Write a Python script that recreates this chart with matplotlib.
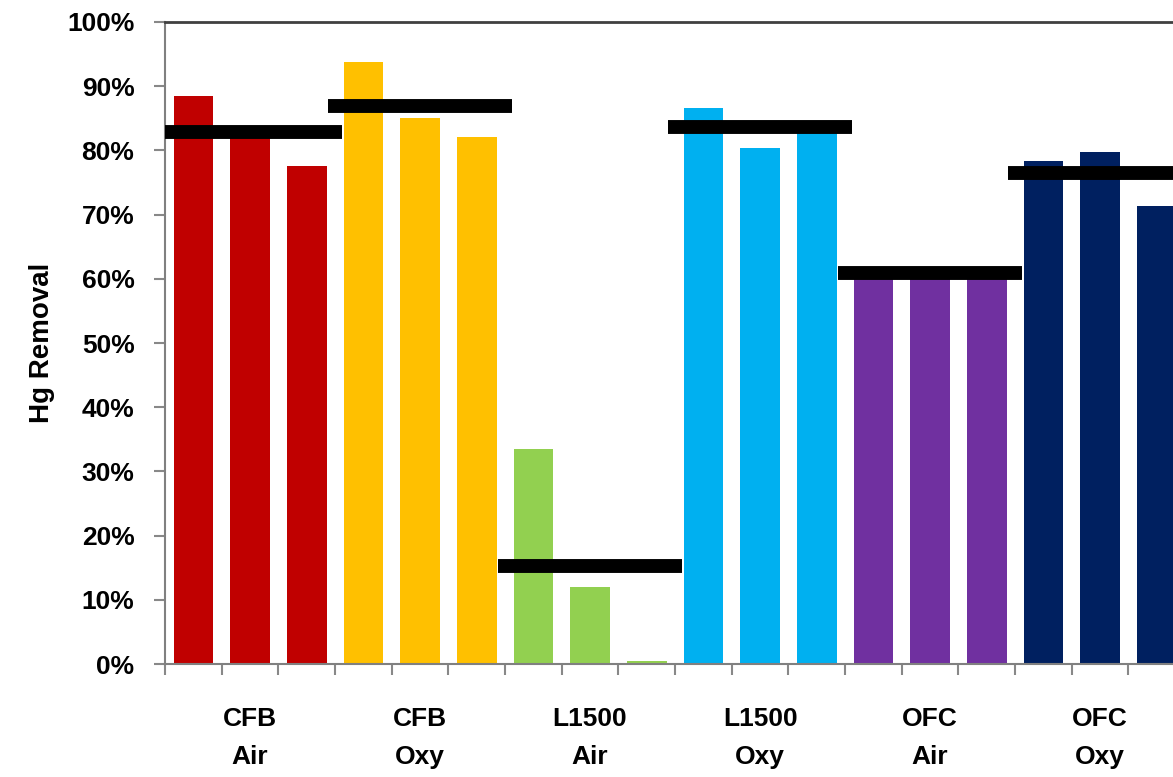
import numpy as np
import matplotlib.pyplot as plt
from matplotlib.ticker import PercentFormatter

plt.rcParams['font.family'] = ['Liberation Sans', 'DejaVu Sans']
plt.rcParams['font.weight'] = 'bold'

# data (Hg removal, %)
groups = ["CFB\nAir", "CFB\nOxy", "L1500\nAir", "L1500\nOxy", "OFC\nAir", "OFC\nOxy"]
cfb_air = [88.5, 82.7, 77.5]
cfb_oxy = [93.8, 85.0, 82.1]
l1500_air = [33.5, 12.0, 0.5]
l1500_oxy = [86.6, 80.4, 83.8]
ofc_air = [61.2, 60.5, 61.0]
ofc_oxy = [78.4, 79.7, 71.3]
colors = ["#C00000", "#FFC000", "#92D050", "#00B0F0", "#7030A0", "#002060"]

series = [cfb_air, cfb_oxy, l1500_air, l1500_oxy, ofc_air, ofc_oxy]

fig = plt.figure(figsize=(11.73, 7.77), dpi=100)
ax = fig.add_axes([0.1407, 0.1454, 0.8696, 0.8263])

for i, (vals, c) in enumerate(zip(series, colors)):
    x = np.arange(3) + 3 * i
    ax.bar(x, np.array(vals) / 100, width=0.7, color=c, zorder=2)
    # group average shown as thick black bar
    m = np.mean(vals) / 100
    ax.plot([x[0] - 0.62, x[-1] + 0.62], [m, m], color="black", lw=10,
            solid_capstyle="butt", zorder=3)

ax.set_xlim(-0.5, 17.5)
ax.set_ylim(0, 1)
ax.set_yticks(np.arange(0, 1.01, 0.1))
ax.yaxis.set_major_formatter(PercentFormatter(1.0, decimals=0))
ax.set_ylabel("Hg Removal", fontsize=20, fontweight="bold", labelpad=9)

ax.set_xticks(np.arange(1, 18, 3))
ax.set_xticklabels(groups, fontsize=19, fontweight="bold", linespacing=1.75)
ax.set_xticks(np.arange(-0.5, 18, 1), minor=True)
ax.tick_params(axis="x", which="major", length=0, pad=31)
ax.tick_params(axis="x", which="minor", length=8, width=1.5, color="#888888")
ax.tick_params(axis="y", length=8, width=1.5, color="#888888", labelsize=19,
               pad=14)

for s in ["left", "bottom"]:
    ax.spines[s].set_color("#808080")
    ax.spines[s].set_linewidth(1.5)
ax.spines["top"].set_color("#404040")
ax.spines["top"].set_linewidth(2)
ax.spines["right"].set_visible(False)

fig.savefig("out.png", dpi=100)
